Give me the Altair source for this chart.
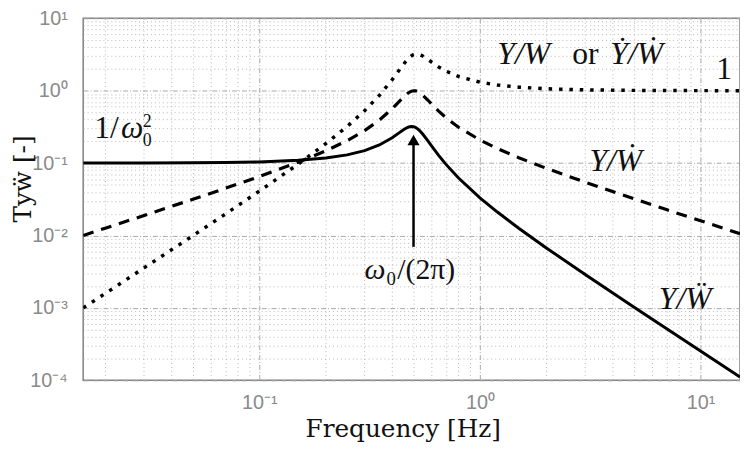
import altair as alt
import pandas as pd

# ---------------- data ----------------
freq = [0.0159, 0.02, 0.03, 0.05, 0.07, 0.1, 0.15, 0.2, 0.25, 0.3, 0.35, 0.4,
        0.43, 0.45, 0.46, 0.47, 0.48, 0.49, 0.5, 0.51, 0.52, 0.53, 0.54, 0.55,
        0.58, 0.6, 0.62, 0.65, 0.7, 0.8, 1.0, 1.2, 1.5, 2, 3, 5, 7, 10, 15.1]

y_over_wddot = [0.1001, 0.1002, 0.1003, 0.1010, 0.1019, 0.1039, 0.1092, 0.1175,
                0.1300, 0.1489, 0.1782, 0.2243, 0.2618, 0.2885, 0.3006, 0.3107,
                0.3176, 0.3203, 0.3180, 0.3110, 0.2997, 0.2854, 0.2692, 0.2523,
                0.2040, 0.1769, 0.1544, 0.1277, 0.0968, 0.0622, 0.0332, 0.0211,
                0.0126, 0.00674, 0.00289, 0.00102, 0.00052, 0.000254, 0.000111]

y_over_wdot = [0.0100, 0.0126, 0.0189, 0.0317, 0.0448, 0.0653, 0.1029, 0.1476,
               0.2041, 0.2806, 0.3918, 0.5636, 0.7073, 0.8156, 0.8689, 0.9176,
               0.9579, 0.9860, 0.9991, 0.9965, 0.9793, 0.9504, 0.9134, 0.8718,
               0.7433, 0.6669, 0.6014, 0.5216, 0.4259, 0.3128, 0.2085, 0.1589,
               0.1187, 0.0847, 0.0545, 0.0321, 0.0228, 0.0160, 0.0106]

y_over_w = [0.00100, 0.00158, 0.00357, 0.00996, 0.0197, 0.0410, 0.0970, 0.1855,
            0.3207, 0.5290, 0.8616, 1.4165, 1.911, 2.306, 2.511, 2.710, 2.889,
            3.036, 3.139, 3.193, 3.200, 3.165, 3.099, 3.013, 2.709, 2.514,
            2.343, 2.130, 1.873, 1.572, 1.310, 1.198, 1.119, 1.064, 1.027,
            1.010, 1.005, 1.002, 1.001]

# annotation texts (anchor positions in data units)
ital_text = ["ω", "Y/W", "Ẏ/Ẇ", "Y/Ẇ", "ω", "Y/Ẅ"]
ital_f = [0.0236, 1.1995, 3.90, 3.137, 0.3001, 6.471]
ital_v = [0.2223, 2.353, 2.353, 0.07871, 0.002474, 0.000963]
ital_size = [32, 32, 32, 32, 30, 32]

up_text = ["1/", "2", "0", "or", "1", "0", "/(2π)"]
up_f = [0.01784, 0.02961, 0.02961, 2.62, 11.79, 0.3768, 0.4220]
up_v = [0.2223, 0.3140, 0.1706, 2.353, 1.468, 0.002049, 0.002474]
up_size = [32, 18, 18, 32, 32, 19, 30]

arrow_f = [0.5]
arrow_v0 = [0.00698]
arrow_v1 = [0.209]

x_domain = [0.0159, 15.1]
y_domain = [1e-4, 10]
x_exps = [-2, -1, 0, 1]
y_exps = [-4, -3, -2, -1, 0, 1]

# ---------------- tables ----------------
curves = pd.DataFrame({"f": freq, "a": y_over_wddot, "v": y_over_wdot, "d": y_over_w})
ital = pd.DataFrame({"t": ital_text, "f": ital_f, "v": ital_v, "s": ital_size})
up = pd.DataFrame({"t": up_text, "f": up_f, "v": up_v, "s": up_size})
arrow = pd.DataFrame({"f": arrow_f, "v0": arrow_v0, "v1": arrow_v1})

def grid_vals(exps, lo, hi):
    out = []
    for e in exps:
        for m in range(1, 10):
            val = m * 10.0 ** e
            if lo * 0.999 <= val <= hi * 1.001:
                out.append(float(f"{val:.6g}"))
    return sorted(set(out))

x_vals = grid_vals(x_exps, x_domain[0], x_domain[1])
y_vals = grid_vals(y_exps, y_domain[0], y_domain[1])

sup = {"-": "⁻", "0": "⁰", "1": "¹", "2": "²", "3": "³", "4": "⁴"}
def sup_str(e):
    return "".join(sup[c] for c in str(e))

def label_expr(exps):
    expr = "''"
    for e in exps:
        expr = f"abs(datum.value - {10.0 ** e!r}) < {10.0 ** e * 1e-6!r} ? '10{sup_str(e)}' : ({expr})"
    return expr

major = "abs(log(datum.value)/LN10 - round(log(datum.value)/LN10)) < 0.001"

common_axis = dict(
    grid=True,
    gridColor={"condition": {"test": major, "value": "#a8a8a8"}, "value": "#b8b8b8"},
    gridDash={"condition": {"test": major, "value": [5, 2, 1, 2]}, "value": [1, 3]},
    gridWidth=1,
    ticks=False,
    domain=False,
    labelFont="Liberation Sans",
    labelFontSize=20,
    labelColor="#8a8a8a",
    labelOverlap=False,
    titleFont="DejaVu Serif",
    titleFontSize=25,
    titleFontWeight="normal",
    titleColor="#111111",
)

x_axis = alt.Axis(values=x_vals, labelExpr=label_expr(x_exps), labelPadding=12,
                  title="Frequency [Hz]", titleX=323, titleY=57,
                  titleAlign="center", titleBaseline="alphabetic", **common_axis)
y_axis = alt.Axis(values=y_vals, labelExpr=label_expr(y_exps), labelPadding=16,
                  title="Tyẅ [-]", titleX=-53, titleY=162, titleAngle=270,
                  titleAlign="center", titleBaseline="alphabetic", **common_axis)

xs = alt.Scale(type="log", domain=x_domain, nice=False)
ys = alt.Scale(type="log", domain=y_domain, nice=False)

def X(field="f"):
    return alt.X(f"{field}:Q", scale=xs, axis=x_axis)

def Y(field):
    return alt.Y(f"{field}:Q", scale=ys, axis=y_axis)

base = alt.Chart(curves)
solid = base.mark_line(color="black", strokeWidth=3, clip=True).encode(x=X(), y=Y("a"))
dashed = base.mark_line(color="black", strokeWidth=3.2, strokeDash=[11, 8], clip=True).encode(x=X(), y=Y("v"))
dotted = base.mark_line(color="black", strokeWidth=3.5, strokeDash=[3.5, 7], clip=True).encode(x=X(), y=Y("d"))

rule = alt.Chart(arrow).mark_rule(color="black", strokeWidth=2.5).encode(
    x=X(), y=Y("v0"), y2="v1:Q")
head = alt.Chart(arrow).mark_point(shape="triangle-up", filled=True, color="black",
                                   size=150, opacity=1).encode(x=X(), y=Y("v1"))

t_ital = alt.Chart(ital).mark_text(font="Liberation Serif", fontStyle="italic",
                                   align="left", baseline="alphabetic", color="#111111").encode(
    x=X(), y=Y("v"), text="t:N", size=alt.Size("s:Q", scale=None, legend=None))
t_up = alt.Chart(up).mark_text(font="Liberation Serif", align="left",
                               baseline="alphabetic", color="#111111").encode(
    x=X(), y=Y("v"), text="t:N", size=alt.Size("s:Q", scale=None, legend=None))

chart = alt.layer(solid, dashed, dotted, rule, head, t_ital, t_up).properties(
    width=664, height=366,
    autosize=alt.AutoSizeParams(type="none"),
    padding={"left": 76, "top": 8, "right": 0, "bottom": 66},
    background="white",
).configure_view(stroke="#808080", strokeWidth=1.5)

chart.save("out.html", embed_options={"renderer": "svg", "actions": False})
